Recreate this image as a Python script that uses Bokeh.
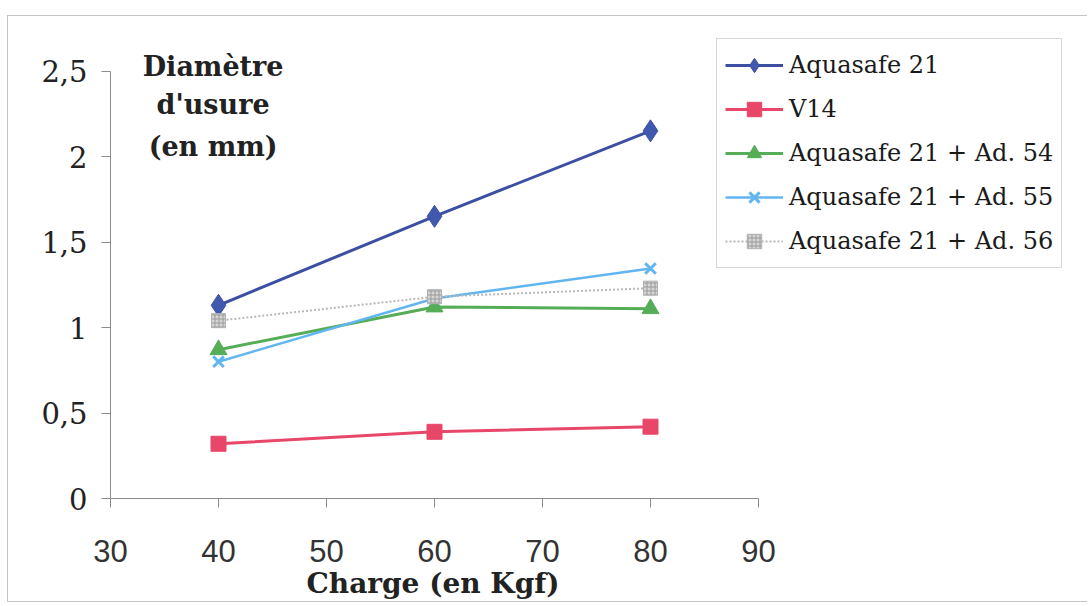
from bokeh.plotting import figure
from bokeh.models import Range1d, Legend, LegendItem, Label, FixedTicker, CustomJSTickFormatter, Title
from bokeh.embed import file_html
from bokeh.resources import INLINE

charge = [40, 60, 80]
aquasafe21 = [1.13, 1.65, 2.15]
v14 = [0.32, 0.39, 0.42]
ad54 = [0.87, 1.12, 1.11]
ad55 = [0.80, 1.17, 1.345]
ad56 = [1.04, 1.18, 1.23]

x_ticks = [30, 40, 50, 60, 70, 80, 90]
y_ticks = [0, 0.5, 1, 1.5, 2, 2.5]
series_names = ["Aquasafe 21", "V14", "Aquasafe 21 + Ad. 54", "Aquasafe 21 + Ad. 55", "Aquasafe 21 + Ad. 56"]
y_title = ["Diamètre", "d'usure", "(en mm)"]
x_title = "Charge (en Kgf)"

# figure canvas origin intended at page (8, 16)
W, H = 1080, 587
FL, FT, FB, FR = 102, 22, 482, 1074   # frame edges in canvas pixels
PX_PER_X = 10.8                        # pixels per x unit
PX_PER_Y = 171.0                       # pixels per y unit
x_end = 30 + (FR - FL) / PX_PER_X
y_end = (FB - FT) / PX_PER_Y

p = figure(width=W, height=H, output_backend="svg", toolbar_location=None,
           x_range=Range1d(30, x_end), y_range=Range1d(0, y_end),
           min_border_left=FL, min_border_right=W - FR, min_border_top=FT,
           min_border_bottom=H - FB)
p.styles = {"margin-top": "15px", "margin-left": "7px",
            "border-top": "1px solid #c4c4c4", "border-left": "1px solid #c4c4c4",
            "border-bottom": "1px solid #c4c4c4"}
p.outline_line_color = None
p.xgrid.visible = False
p.ygrid.visible = False
p.background_fill_color = "white"
p.border_fill_color = "white"

for ax in (p.xaxis[0], p.yaxis[0]):
    ax.axis_line_color = "#8a8a8a"
    ax.major_tick_line_color = "#8a8a8a"
    ax.minor_tick_line_color = None
    ax.major_tick_in = 0
    ax.major_tick_out = 9

p.xaxis.bounds = (x_ticks[0], x_ticks[-1])
p.yaxis.bounds = (y_ticks[0], y_ticks[-1])
p.xaxis.ticker = FixedTicker(ticks=x_ticks)
p.yaxis.ticker = FixedTicker(ticks=y_ticks)
p.yaxis.formatter = CustomJSTickFormatter(code="return tick.toString().replace('.', ',');")
p.xaxis.major_label_text_font = "Liberation Sans"
p.xaxis.major_label_text_font_size = "31px"
p.xaxis.major_label_text_color = "#333333"
p.xaxis.major_label_standoff = 32
p.yaxis.major_label_text_font = "DejaVu Serif"
p.yaxis.major_label_text_font_size = "29px"
p.yaxis.major_label_text_color = "#222222"
p.yaxis.major_label_standoff = 14

# x-axis title, centred under the 30..90 axis span (frame-left offset)
p.add_layout(Title(text=x_title, align="left", offset=196, standoff=0,
                   text_font="DejaVu Serif", text_font_style="bold", text_font_size="28px",
                   text_color="#222222"), "below")

# series
c_blue, c_red, c_green, c_lblue, c_gray = "#3c4fa3", "#e8476a", "#55ad58", "#62b6f0", "#b8b8b8"

r1l = p.line(charge, aquasafe21, line_color=c_blue, line_width=3)
r1m = p.scatter(charge, aquasafe21, marker="diamond", size=22, fill_color="#4058ad", line_color=c_blue)
r2l = p.line(charge, v14, line_color=c_red, line_width=3)
r2m = p.scatter(charge, v14, marker="square", size=15, fill_color=c_red, line_color=c_red)
r3l = p.line(charge, ad54, line_color=c_green, line_width=3)
r3m = p.scatter(charge, ad54, marker="triangle", size=17, fill_color=c_green, line_color=c_green)
r4l = p.line(charge, ad55, line_color=c_lblue, line_width=2.5)
r4m = p.scatter(charge, ad55, marker="x", size=15, line_color=c_lblue, line_width=3)
r5l = p.line(charge, ad56, line_color=c_gray, line_width=2, line_dash="2 2")
r5m = p.scatter(charge, ad56, marker="square", size=14, fill_color="#d6d6d6", line_color="#b0b0b0",
                hatch_pattern="+", hatch_color="#9a9a9a", hatch_scale=4, hatch_weight=1)

items = [
    LegendItem(label=series_names[0], renderers=[r1l, r1m]),
    LegendItem(label=series_names[1], renderers=[r2l, r2m]),
    LegendItem(label=series_names[2], renderers=[r3l, r3m]),
    LegendItem(label=series_names[3], renderers=[r4l, r4m]),
    LegendItem(label=series_names[4], renderers=[r5l, r5m]),
]
# legend box: page x 716..1080, y 40..268 -> frame-relative offsets from bottom-left
legend = Legend(items=items, location=(716 - 8 - FL, FB - (268 - 16)), orientation="vertical",
                border_line_color="#b0b0b0", border_line_width=1.5,
                background_fill_color="white", background_fill_alpha=1,
                label_text_font="DejaVu Serif", label_text_font_size="24px",
                label_text_color="#1a1a1a",
                glyph_width=58, glyph_height=36, label_height=36, spacing=8,
                padding=8, margin=0, label_standoff=6)
p.add_layout(legend, "center")

for txt, yv in zip(y_title, [2.526, 2.304, 2.058]):
    p.add_layout(Label(x=39.5, y=yv, text=txt, text_align="center", text_baseline="middle",
                       text_font="DejaVu Serif", text_font_style="bold", text_font_size="27px",
                       text_color="#222222"))

open("out.html", "w").write(file_html(p, INLINE))
